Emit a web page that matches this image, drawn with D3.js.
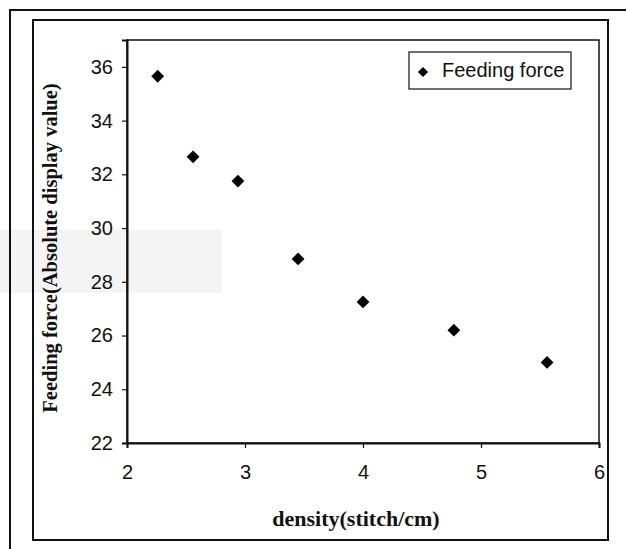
<!DOCTYPE html>
<html>
<head>
<meta charset="utf-8">
<script src="https://cdn.jsdelivr.net/npm/d3@7"></script>
<style>
  html, body { margin: 0; padding: 0; background: #fff; }
  svg { display: block; }
</style>
</head>
<body>
<svg id="chart" width="626" height="549"></svg>
<script>
// ---- data ----
const density = [2.26, 2.56, 2.94, 3.45, 4.0, 4.77, 5.56];
const feedingForce = [35.65, 32.65, 31.75, 28.85, 27.25, 26.2, 25.0];
const xTicks = [2, 3, 4, 5, 6];
const yTicks = [22, 24, 26, 28, 30, 32, 34, 36];
const seriesName = "Feeding force";
const xTitle = "density(stitch/cm)";
const yTitle = "Feeding force(Absolute display value)";

const svg = d3.select("#chart");

// outer frame (open to the right / bottom)
svg.append("path").attr("d", "M10,549 L10,10 L626,10")
  .attr("fill", "none").attr("stroke", "#111").attr("stroke-width", 2);
// inner frame
svg.append("rect").attr("x", 33).attr("y", 20).attr("width", 575).attr("height", 520)
  .attr("fill", "none").attr("stroke", "#111").attr("stroke-width", 2);

const plot = { left: 127, right: 599, top: 40, bottom: 443 };
const x = d3.scaleLinear().domain([2, 6]).range([plot.left, plot.right]);
const y = d3.scaleLinear().domain([22, 37]).range([plot.bottom, plot.top]);

// plot area
svg.append("rect").attr("x", plot.left).attr("y", plot.top)
  .attr("width", plot.right - plot.left).attr("height", plot.bottom - plot.top)
  .attr("fill", "#fff").attr("stroke", "#111").attr("stroke-width", 1.5);

// scan artifact (faint gray band)
svg.append("rect").attr("x", 0).attr("y", 230).attr("width", 222).attr("height", 63)
  .attr("fill", "#000").attr("fill-opacity", 0.045);

// axes
const xAxis = d3.axisBottom(x).tickValues(xTicks).tickSize(5).tickPadding(17).tickFormat(d3.format("d"));
const yAxis = d3.axisLeft(y).tickValues(yTicks).tickSize(5).tickPadding(9).tickFormat(d3.format("d"));

const gx = svg.append("g").attr("transform", `translate(0,${plot.bottom})`).call(xAxis);
const gy = svg.append("g").attr("transform", `translate(${plot.left},0)`).call(yAxis);
[gx, gy].forEach(g => {
  g.select(".domain").attr("stroke", "#111").attr("stroke-width", 2);
  g.selectAll(".tick line").attr("stroke", "#111").attr("stroke-width", 1.2);
  g.selectAll(".tick text").attr("fill", "#111")
    .style("font-family", "'Liberation Sans', Arial, sans-serif").style("font-size", "20px");
});

// points
const diamond = d3.symbol().type(d3.symbolSquare).size(82);
svg.append("g").selectAll("path").data(density.map((d, i) => [d, feedingForce[i]]))
  .join("path")
  .attr("d", diamond)
  .attr("transform", d => `translate(${x(d[0])},${y(d[1])}) rotate(45)`)
  .attr("fill", "#000");

// legend
const lg = svg.append("g");
lg.append("rect").attr("x", 409).attr("y", 52).attr("width", 162).attr("height", 37)
  .attr("fill", "#fff").attr("stroke", "#111").attr("stroke-width", 1.2);
lg.append("path").attr("d", d3.symbol().type(d3.symbolSquare).size(52))
  .attr("transform", "translate(423,72) rotate(45)").attr("fill", "#000");
lg.append("text").attr("x", 442).attr("y", 77).text(seriesName)
  .attr("fill", "#111")
  .style("font-family", "'Liberation Sans', Arial, sans-serif").style("font-size", "20px");

// axis titles
svg.append("text").attr("x", 356).attr("y", 526).attr("text-anchor", "middle")
  .text(xTitle).attr("fill", "#111")
  .style("font-family", "'Liberation Serif', 'Times New Roman', serif")
  .style("font-weight", "bold").style("font-size", "22px");

svg.append("text").attr("transform", "translate(57,248) rotate(-90)")
  .attr("text-anchor", "middle").text(yTitle).attr("fill", "#111")
  .style("font-family", "'Liberation Serif', 'Times New Roman', serif")
  .style("font-weight", "bold").style("font-size", "20.5px");
</script>
</body>
</html>
